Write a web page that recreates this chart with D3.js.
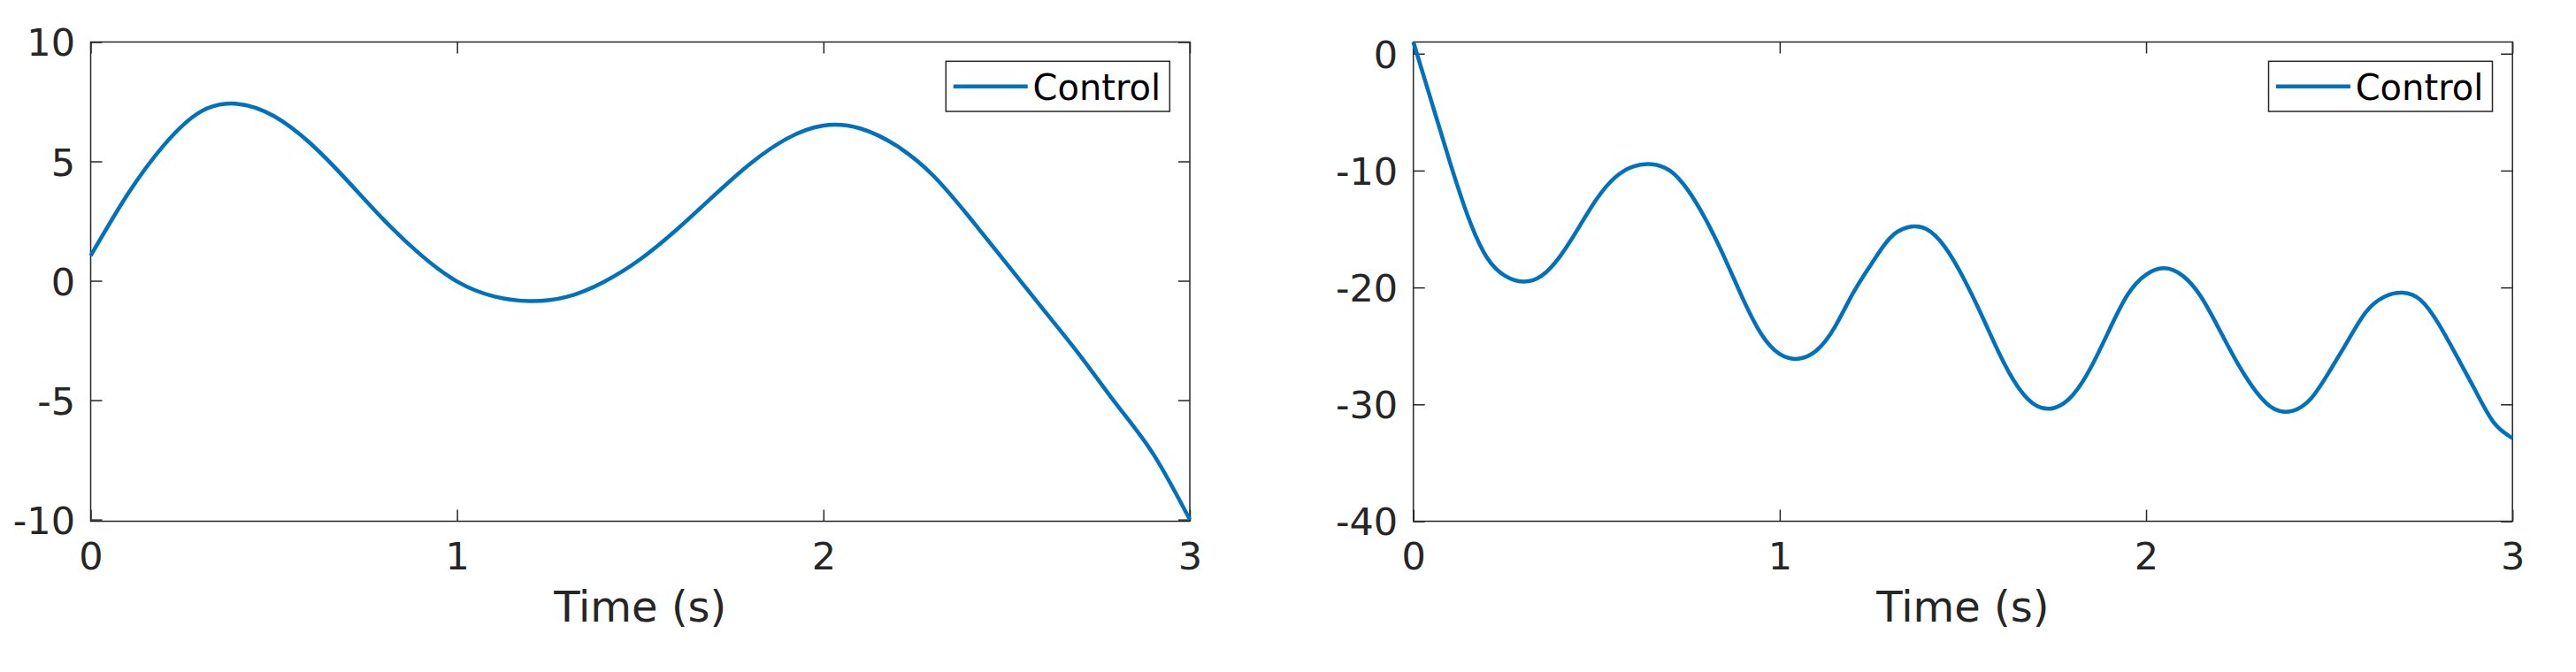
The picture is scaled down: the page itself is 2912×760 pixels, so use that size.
<!DOCTYPE html>
<html>
<head>
<meta charset="utf-8">
<script src="https://cdn.jsdelivr.net/npm/d3@7"></script>
<style>
  html, body { margin: 0; padding: 0; background: #fff; }
  svg { display: block; font-family: "DejaVu Sans", sans-serif; }
</style>
</head>
<body>
<svg id="chart" width="2912" height="760"></svg>
<script>
// ---- data ----
const seriesName = "Control";
const xLabel = "Time (s)";
const xTicks = [0, 1, 2, 3];

const leftYTicks = [-10, -5, 0, 5, 10];
const leftT = [0, 0.1, 0.2, 0.3, 0.4, 0.5, 0.6, 0.7, 0.8, 0.9, 1.0, 1.1, 1.2, 1.3, 1.4, 1.5,
  1.6, 1.7, 1.8, 1.9, 2.0, 2.1, 2.2, 2.3, 2.4, 2.5, 2.6, 2.7, 2.8, 2.9, 3.0];
const leftV = [1.05, 3.6, 5.68, 7.08, 7.41, 6.9, 5.75, 4.2, 2.55, 1.1, -0.03, -0.65, -0.85, -0.67,
  -0.05, 0.9, 2.15, 3.55, 4.9, 5.95, 6.5, 6.38, 5.65, 4.4, 2.63, 0.72, -1.2, -3.12, -5.18, -7.25, -10.0];

const rightYTicks = [-40, -30, -20, -10, 0];
const rightT = [0, 0.05, 0.1, 0.15, 0.2, 0.25, 0.3, 0.35, 0.4, 0.45, 0.5, 0.55, 0.6, 0.65, 0.7, 0.75,
  0.8, 0.85, 0.9, 0.95, 1.0, 1.05, 1.1, 1.15, 1.2, 1.25, 1.3, 1.35, 1.4, 1.45, 1.5, 1.55, 1.6, 1.65,
  1.7, 1.75, 1.8, 1.85, 1.9, 1.95, 2.0, 2.05, 2.1, 2.15, 2.2, 2.25, 2.3, 2.35, 2.4, 2.45, 2.5, 2.55,
  2.6, 2.65, 2.7, 2.75, 2.8, 2.85, 2.9, 2.95, 3.0];
const rightV = [1.0, -4.15, -9.3, -14.0, -17.4, -19.0, -19.5, -19.0, -17.35, -14.95, -12.45, -10.6,
  -9.65, -9.45, -10.0, -11.7, -14.3, -17.5, -21.0, -24.0, -25.7, -26.1, -25.4, -23.4, -20.5, -18.0,
  -15.8, -14.85, -15.0, -16.5, -19.1, -22.3, -25.7, -28.5, -30.1, -30.3, -29.2, -26.8, -23.6, -20.6,
  -18.9, -18.35, -19.0, -20.8, -23.6, -26.5, -28.9, -30.4, -30.55, -29.5, -27.2, -24.6, -22.1, -20.8,
  -20.45, -21.1, -23.2, -26.0, -28.9, -31.6, -32.9];

// ---- layout ----
const svg = d3.select("#chart");
const axTop = 47.5, axBottom = 589.5, axWidth = 1242.5;
const lineColor = "#0072BD", axisColor = "#262626";
const tickFont = 43, labelFont = 48, legendFont = 40;

function drawPanel(left, yDomain, yTicks, T, V) {
  const x = d3.scaleLinear().domain([0, 3]).range([left, left + axWidth]);
  const y = d3.scaleLinear().domain(yDomain).range([axBottom, axTop]);
  const g = svg.append("g");

  const styleAxis = sel => {
    sel.select(".domain").remove();
    sel.selectAll(".tick line").attr("stroke", axisColor).attr("stroke-width", 1.5);
    sel.selectAll(".tick text").attr("fill", axisColor)
      .style("font-family", '"DejaVu Sans", sans-serif').style("font-size", tickFont + "px");
  };

  // bottom axis with labels
  g.append("g").attr("transform", `translate(0,${axBottom})`)
    .call(d3.axisBottom(x).tickValues(xTicks).tickFormat(d => String(d)).tickSize(-13).tickPadding(24))
    .call(styleAxis);
  // top axis ticks only
  g.append("g").attr("transform", `translate(0,${axTop})`)
    .call(d3.axisTop(x).tickValues(xTicks).tickFormat("").tickSize(-13))
    .call(styleAxis);
  // left axis with labels
  g.append("g").attr("transform", `translate(${left},0)`)
    .call(d3.axisLeft(y).tickValues(yTicks).tickFormat(d => String(d)).tickSize(-13).tickPadding(17.5))
    .call(styleAxis)
    .call(s => s.selectAll(".tick text").attr("dy", "0.36em"));
  // right axis ticks only
  g.append("g").attr("transform", `translate(${left + axWidth},0)`)
    .call(d3.axisRight(y).tickValues(yTicks).tickFormat("").tickSize(-13))
    .call(styleAxis);

  // box
  g.append("rect")
    .attr("x", left).attr("y", axTop)
    .attr("width", axWidth).attr("height", axBottom - axTop)
    .attr("fill", "none").attr("stroke", axisColor).attr("stroke-width", 1.5);

  // data line
  const pts = T.map((t, i) => [t, V[i]]);
  g.append("path")
    .datum(pts)
    .attr("fill", "none")
    .attr("stroke", lineColor)
    .attr("stroke-width", 4.5)
    .attr("stroke-linejoin", "round")
    .attr("d", d3.line().x(d => x(d[0])).y(d => y(d[1])).curve(d3.curveNatural));

  // x label
  g.append("text")
    .attr("x", left + axWidth / 2).attr("y", 703)
    .attr("text-anchor", "middle")
    .attr("fill", axisColor)
    .style("font-size", labelFont + "px")
    .text(xLabel);

  // legend
  const right = left + axWidth;
  const lg = g.append("g");
  lg.append("rect")
    .attr("x", right - 275.7).attr("y", axTop + 21.8)
    .attr("width", 253).attr("height", 56.7)
    .attr("fill", "#fff").attr("stroke", axisColor).attr("stroke-width", 1.5);
  lg.append("line")
    .attr("x1", right - 267.3).attr("x2", right - 183.3)
    .attr("y1", axTop + 50.2).attr("y2", axTop + 50.2)
    .attr("stroke", lineColor).attr("stroke-width", 4.5);
  lg.append("text")
    .attr("x", right - 177.5).attr("y", axTop + 65.2)
    .attr("fill", "#000")
    .style("font-size", legendFont + "px")
    .text(seriesName);
}

drawPanel(102.5, [-10.07, 10], leftYTicks, leftT, leftV);
drawPanel(1597.7, [-40, 1], rightYTicks, rightT, rightV);
</script>
</body>
</html>
